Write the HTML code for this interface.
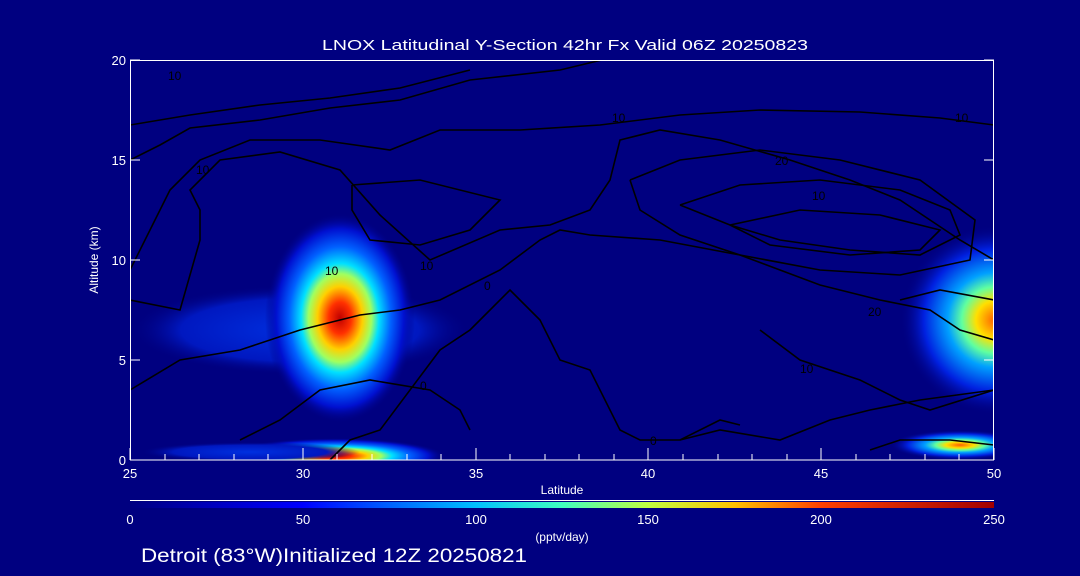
<!DOCTYPE html>
<html><head><style>
body{margin:0;background:#000080;}
svg{display:block;font-family:"Liberation Sans",sans-serif;}
</style></head><body>
<svg width="1080" height="576" viewBox="0 0 1080 576" xmlns="http://www.w3.org/2000/svg">
<defs>
<radialGradient id="jet">
<stop offset="0" stop-color="#c00000"/>
<stop offset="0.15" stop-color="#ff3000"/>
<stop offset="0.3" stop-color="#ffd000"/>
<stop offset="0.42" stop-color="#a0ff60"/>
<stop offset="0.52" stop-color="#00e0ff"/>
<stop offset="0.68" stop-color="#0060ff"/>
<stop offset="0.85" stop-color="#0010d0"/>
<stop offset="1" stop-color="#000080" stop-opacity="0"/>
</radialGradient>
<radialGradient id="jet2">
<stop offset="0" stop-color="#ff6000"/>
<stop offset="0.2" stop-color="#ffe000"/>
<stop offset="0.35" stop-color="#60ffa0"/>
<stop offset="0.5" stop-color="#00a0ff"/>
<stop offset="0.75" stop-color="#0020e0"/>
<stop offset="1" stop-color="#000080" stop-opacity="0"/>
</radialGradient>
<radialGradient id="halo">
<stop offset="0" stop-color="#0030e0"/>
<stop offset="0.7" stop-color="#0018c0"/>
<stop offset="1" stop-color="#000080" stop-opacity="0"/>
</radialGradient>
<linearGradient id="cb" x1="0" x2="1">
<stop offset="0" stop-color="#000080"/>
<stop offset="0.2" stop-color="#0000ff"/>
<stop offset="0.4" stop-color="#00c0ff"/>
<stop offset="0.5" stop-color="#40ffc0"/>
<stop offset="0.6" stop-color="#c0ff40"/>
<stop offset="0.7" stop-color="#ffc000"/>
<stop offset="0.8" stop-color="#ff4000"/>
<stop offset="1" stop-color="#a00000"/>
</linearGradient>
<clipPath id="pc"><rect x="130" y="60" width="864" height="400"/></clipPath>
</defs>
<g clip-path="url(#pc)">
<ellipse cx="300" cy="330" rx="170" ry="45" fill="url(#halo)"/>
<ellipse cx="340" cy="318" rx="75" ry="105" fill="url(#jet)"/>
<ellipse cx="335" cy="456" rx="110" ry="18" fill="url(#jet)"/>
<ellipse cx="250" cy="452" rx="110" ry="10" fill="url(#halo)"/>
<ellipse cx="995" cy="320" rx="95" ry="95" fill="url(#jet2)"/>
<ellipse cx="960" cy="445" rx="70" ry="15" fill="url(#jet2)"/>
<g fill="none" stroke="#000" stroke-width="1.6">
<polyline points="130,160 160,145 190,128 260,120 330,108 400,100 470,80 560,70 610,58"/>
<polyline points="130,125 190,115 260,105 330,98 400,88 470,70"/>
<polyline points="130,270 150,230 170,190 200,160 250,140 320,140 390,150 440,130 520,130 600,125 680,115 760,110 860,112 940,118 994,125"/>
<polyline points="130,300 180,310 200,240 200,210 190,190 220,160 280,152 340,170 380,215 430,260 500,230 550,225 590,210 610,180 620,140 660,130 720,140 790,160 850,180 900,200 960,240 994,260"/>
<polyline points="130,390 180,360 240,350 300,330 360,315 400,310 440,300 500,270 540,240 560,230 590,235 660,240 740,255 820,285 880,300 930,310 960,330 994,340"/>
<polyline points="352,185 420,180 500,200 470,230 420,245 370,240 352,210 352,185"/>
<polyline points="630,180 680,160 760,150 840,160 920,180 975,220 970,260 900,275 820,270 740,255 680,235 640,210 630,180"/>
<polyline points="680,205 740,185 820,180 900,190 950,210 960,235 920,255 850,250 780,240 730,225 680,205"/>
<polyline points="730,225 800,210 880,215 940,230 920,250 850,255 770,245 730,225"/>
<polyline points="240,440 280,420 320,390 370,380 430,390 460,410 470,430"/>
<polyline points="330,460 350,440 380,430 440,350 470,330 480,320 510,290 540,320 560,360 590,370 620,430 640,440 680,440 720,420 740,425"/>
<polyline points="760,330 800,360 860,380 900,400 930,410 994,390"/>
<polyline points="680,440 720,430 780,440 830,420 870,410 920,400 994,390"/>
<polyline points="870,450 900,440 950,440 994,445"/>
<polyline points="900,300 940,290 994,300"/>
</g>
</g>
<g fill="#000" font-size="12">
<text x="168" y="80">10</text><text x="612" y="122">10</text><text x="955" y="122">10</text>
<text x="196" y="174">10</text><text x="775" y="165">20</text><text x="812" y="200">10</text>
<text x="325" y="275">10</text><text x="420" y="270">10</text><text x="484" y="290">0</text>
<text x="868" y="316">20</text><text x="800" y="373">10</text><text x="420" y="390">0</text><text x="650" y="445">0</text>
</g>
<g stroke="#fff" stroke-width="1" fill="none">
<rect x="130.5" y="60.5" width="863" height="399.5"/>
</g>
<g stroke="#fff" stroke-width="1">
<line x1="130" y1="500.5" x2="994" y2="500.5"/>
<path d="M130 460v-12M303 460v-12M476 460v-12M648 460v-12M821 460v-12M994 460v-12M130 360h10M130 260h10M130 160h10M130 60h10M984 360h10M984 260h10M984 160h10M984 60h10"/>
<path d="M165 460v-6M199 460v-6M234 460v-6M268 460v-6M337 460v-6M372 460v-6M407 460v-6M441 460v-6M510 460v-6M545 460v-6M579 460v-6M614 460v-6M683 460v-6M718 460v-6M752 460v-6M787 460v-6M856 460v-6M890 460v-6M925 460v-6M959 460v-6"/>
</g>
<rect x="130" y="502" width="864" height="6" fill="url(#cb)"/>
<g fill="#fff" font-size="13">
<text x="322" y="50" font-size="15" textLength="486" lengthAdjust="spacingAndGlyphs">LNOX Latitudinal Y-Section 42hr  Fx Valid 06Z 20250823</text>
<g text-anchor="end"><text x="126" y="465">0</text><text x="126" y="365">5</text><text x="126" y="265">10</text><text x="126" y="165">15</text><text x="126" y="65">20</text></g>
<g text-anchor="middle"><text x="130" y="478">25</text><text x="303" y="478">30</text><text x="476" y="478">35</text><text x="648" y="478">40</text><text x="821" y="478">45</text><text x="994" y="478">50</text>
<text x="562" y="494" font-size="12">Latitude</text>
<text x="130" y="524">0</text><text x="303" y="524">50</text><text x="476" y="524">100</text><text x="648" y="524">150</text><text x="821" y="524">200</text><text x="994" y="524">250</text>
<text x="562" y="541" font-size="12">(pptv/day)</text></g>
<text transform="translate(98,260) rotate(-90)" text-anchor="middle" font-size="12">Altitude (km)</text>
<text x="141" y="562" font-size="19" textLength="386" lengthAdjust="spacingAndGlyphs">Detroit (83°W)Initialized 12Z 20250821</text>
</g>
</svg>
</body></html>
